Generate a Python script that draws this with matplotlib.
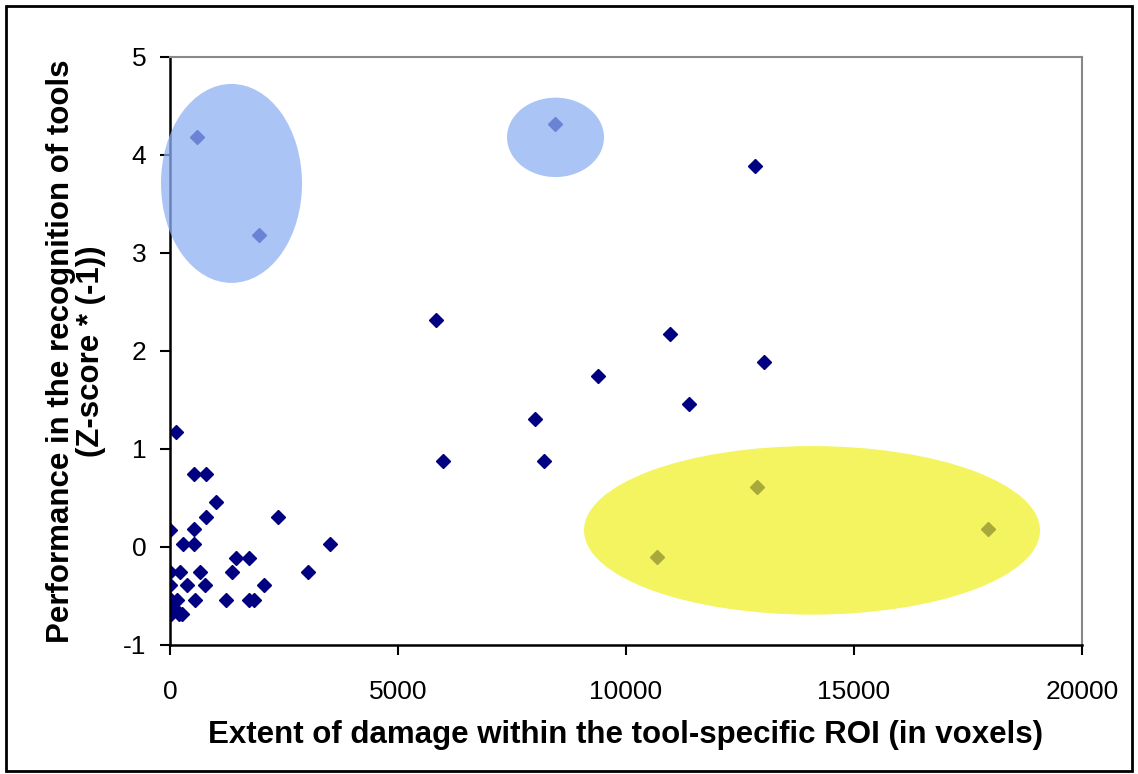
import matplotlib
matplotlib.use("Agg")
import matplotlib.pyplot as plt
from matplotlib.patches import Ellipse, Rectangle

plt.rcParams["font.family"] = ["Liberation Sans", "DejaVu Sans"]
plt.rcParams["axes.unicode_minus"] = False

# damage extent (voxels) and tool recognition performance (z * -1)
damage = [
    592, 1952, 8443, 12829,
    5833, 10965, 13026, 9386, 11381, 8004, 5987, 8202,
    10680, 12873, 17939,
    132, 526, 789, 1009, 783, 2361, 0, 533, 292, 533, 3515,
    1447, 1726, 0, 213, 658, 1353, 3019, 0, 366, 768, 2061,
    15, 147, 555, 1228, 1726, 1842, 20, 200, 256, 90,
]
performance = [
    4.18, 3.18, 4.32, 3.89,
    2.32, 2.17, 1.89, 1.74, 1.46, 1.31, 0.88, 0.88,
    -0.10, 0.61, 0.18,
    1.17, 0.74, 0.74, 0.46, 0.31, 0.31, 0.17, 0.18, 0.03, 0.03, 0.03,
    -0.11, -0.11, -0.26, -0.26, -0.26, -0.26, -0.26, -0.39, -0.39, -0.39, -0.39,
    -0.54, -0.54, -0.54, -0.54, -0.54, -0.54, -0.68, -0.68, -0.68, -0.62,
]

# highlighted groups: (centre x, centre y, width, height, colour)
highlights = [
    (1349, 3.71, 3092, 2.03, "#8eb0f2"),
    (8454, 4.18, 2127, 0.81, "#8eb0f2"),
    (14079, 0.17, 10000, 1.72, "#f0f01e"),
]
highlight_alpha = [0.75, 0.75, 0.7]

x_ticks = [0, 5000, 10000, 15000, 20000]
y_ticks = [-1, 0, 1, 2, 3, 4, 5]

fig = plt.figure(figsize=(11.38, 7.74), dpi=100)
ax = fig.add_axes([170 / 1138, 129 / 774, 912 / 1138, 588 / 774])

ax.plot(damage, performance, linestyle="none", marker="D", markersize=7.5,
        color="#000080", zorder=2)

for (cx, cy, w, h, col), a in zip(highlights, highlight_alpha):
    ax.add_patch(Ellipse((cx, cy), w, h, facecolor=col, edgecolor="none",
                         alpha=a, zorder=3, clip_on=False))

ax.set_xlim(0, 20000)
ax.set_ylim(-1, 5)
ax.set_xticks(x_ticks)
ax.set_yticks(y_ticks)
ax.tick_params(direction="out", length=7, width=1.5, labelsize=19, pad=10)
ax.tick_params(axis="x", pad=18)

for side in ("left", "bottom"):
    ax.spines[side].set_linewidth(1.8)
    ax.spines[side].set_color("black")
for side in ("top", "right"):
    ax.spines[side].set_linewidth(1.5)
    ax.spines[side].set_color("#888888")

ax.set_xlabel("Extent of damage within the tool-specific ROI (in voxels)",
              fontsize=22.5, fontweight="bold", labelpad=12)
ax.set_ylabel("Performance in the recognition of tools\n(Z-score * (-1))",
              fontsize=22.5, fontweight="bold", labelpad=12, linespacing=1.0)

# frame around the whole picture
fig.add_artist(Rectangle((6 / 1138, 3 / 774), 1126 / 1138, 765 / 774,
                         transform=fig.transFigure, fill=False,
                         edgecolor="black", linewidth=2))

fig.savefig("out.png", dpi=100)
